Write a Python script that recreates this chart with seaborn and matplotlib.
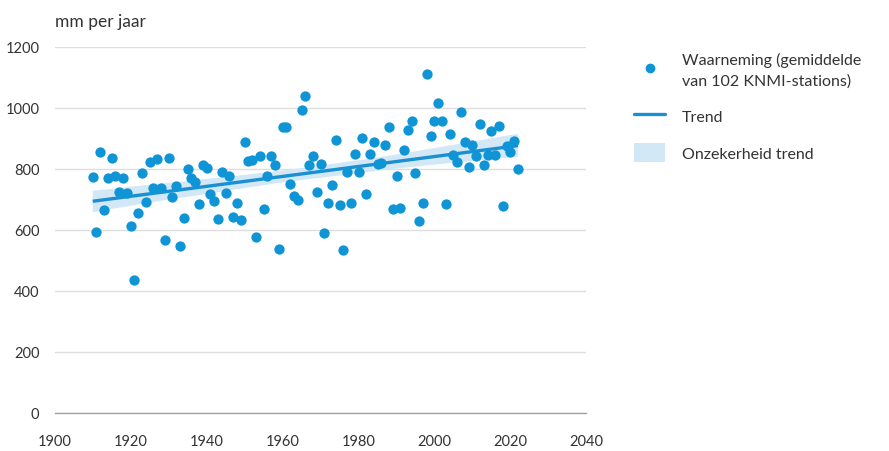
import numpy as np
import pandas as pd
import matplotlib
matplotlib.use("Agg")
import matplotlib.pyplot as plt
from matplotlib.lines import Line2D
from matplotlib.patches import Patch
from matplotlib.ticker import MultipleLocator
import seaborn as sns

# Annual precipitation (mm), mean of 102 KNMI stations, 1910-2022
years = list(range(1910, 2023))
precip_mm = [
    773, 593, 855, 667, 771, 837, 776, 724, 771, 720,   # 1910-1919
    612, 437, 656, 787, 691, 822, 739, 833, 737, 568,   # 1920-1929
    837, 709, 745, 549, 640, 800, 771, 758, 685, 814,   # 1930-1939
    803, 719, 696, 636, 789, 721, 778, 642, 689, 632,   # 1940-1949
    890, 827, 831, 576, 842, 669, 778, 844, 813, 538,   # 1950-1959
    939, 939, 751, 712, 700, 995, 1040, 813, 844, 726,  # 1960-1969
    816, 590, 689, 748, 896, 682, 536, 789, 689, 850,   # 1970-1979
    789, 902, 718, 850, 890, 816, 820, 880, 939, 669,   # 1980-1989
    776, 671, 863, 928, 957, 787, 631, 689, 1113, 909,  # 1990-1999
    957, 1017, 957, 684, 914, 846, 824, 986, 890, 806,  # 2000-2009
    879, 844, 948, 813, 846, 926, 846, 940, 680, 874,   # 2010-2019
    855, 893, 800,                                      # 2020-2022
]

x_ticks = list(range(1900, 2041, 20))
y_ticks = list(range(0, 1201, 200))
legend_labels = ["Waarneming (gemiddelde\nvan 102 KNMI-stations)", "Trend", "Onzekerheid trend"]
y_title = "mm per jaar"

dot_color = "#0f95d6"
line_color = "#1a8fd2"
band_color = "#d2e8f6"
text_color = "#333333"
grid_color = "#dedede"
axis_color = "#a0a0a0"

df = pd.DataFrame({"jaar": years, "neerslag": precip_mm})

sns.set_theme(style="white")
plt.rcParams["font.family"] = ["Lato", "DejaVu Sans"]

fig = plt.figure(figsize=(8.89, 4.52), dpi=100)
ax = fig.add_axes([54.7 / 889, 1 - 414 / 452, (586.4 - 54.7) / 889, (414 - 48) / 452])

# trend line with its confidence band
sns.regplot(data=df, x="jaar", y="neerslag", ax=ax, scatter=False, ci=95,
            n_boot=1000, seed=3, color=line_color,
            line_kws={"linewidth": 2.4, "zorder": 3, "solid_capstyle": "butt"})
for coll in ax.collections:
    coll.set_facecolor(band_color)
    coll.set_alpha(1.0)
    coll.set_edgecolor("none")
    coll.set_zorder(2)

# observations
sns.scatterplot(data=df, x="jaar", y="neerslag", ax=ax, color=dot_color,
                s=55, linewidth=0, zorder=4, legend=False)

ax.set_xlim(1900, 2040)
ax.set_ylim(0, 1200)
ax.set_xticks(x_ticks)
ax.xaxis.set_minor_locator(MultipleLocator(10))
ax.set_yticks(y_ticks)
ax.set_xlabel("")
ax.set_ylabel("")

for side in ["top", "right", "left"]:
    ax.spines[side].set_visible(False)
ax.spines["bottom"].set_color(axis_color)
ax.spines["bottom"].set_linewidth(1.0)

ax.yaxis.grid(True, color=grid_color, linewidth=1.0, zorder=0)
ax.xaxis.grid(False)
ax.set_axisbelow(True)

ax.tick_params(axis="x", which="major", length=7, width=1, color=axis_color,
               direction="out", pad=8, labelsize=10.5, labelcolor=text_color)
ax.tick_params(axis="x", which="minor", length=4, width=1, color=axis_color,
               direction="out")
ax.tick_params(axis="y", length=0, pad=11, labelsize=10.5, labelcolor=text_color)

fig.text(55 / 889, 1 - 22 / 452, y_title, fontsize=12.5, color=text_color,
         ha="left", va="center")

handles = [
    Line2D([], [], marker="o", linestyle="none", markersize=6,
           markerfacecolor=dot_color, markeredgecolor=dot_color),
    Line2D([], [], color=line_color, linewidth=2.4),
    Patch(facecolor=band_color, edgecolor="none"),
]
leg = fig.legend(handles, legend_labels, loc="upper left",
                 bbox_to_anchor=(628 / 889, 1 - 47 / 452), frameon=False,
                 fontsize=11.5, handlelength=1.9, handleheight=1.4,
                 handletextpad=1.05, labelspacing=1.15, borderaxespad=0)
for t in leg.get_texts():
    t.set_color(text_color)
    t.set_linespacing(1.55)

fig.savefig("out.png", dpi=100, facecolor="white")
